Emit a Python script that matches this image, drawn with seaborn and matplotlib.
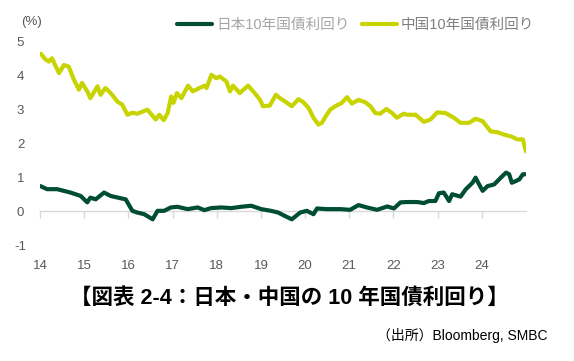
import pandas as pd
import seaborn as sns
import matplotlib.pyplot as plt

# 10-year government bond yields (%)
jp_year = [2014.01, 2014.16, 2014.39, 2014.69, 2014.92, 2015.07, 2015.14, 2015.26, 2015.45,
           2015.60, 2015.83, 2015.94, 2016.09, 2016.20, 2016.36, 2016.55, 2016.66, 2016.81,
           2016.96, 2017.11, 2017.34, 2017.57, 2017.72, 2017.87, 2018.10, 2018.33, 2018.55,
           2018.78, 2019.01, 2019.23, 2019.39, 2019.54, 2019.70, 2019.89, 2020.04, 2020.19,
           2020.27, 2020.49, 2020.80, 2021.02, 2021.21, 2021.40, 2021.63, 2021.86, 2022.01,
           2022.16, 2022.31, 2022.54, 2022.69, 2022.80, 2022.95, 2023.03, 2023.14, 2023.26,
           2023.33, 2023.52, 2023.64, 2023.79, 2023.86, 2023.94, 2024.02, 2024.13, 2024.28,
           2024.43, 2024.55, 2024.62, 2024.68, 2024.77, 2024.85, 2024.93, 2025.00]
jp_yield = [0.74, 0.65, 0.65, 0.55, 0.45, 0.26, 0.40, 0.35, 0.55,
            0.45, 0.38, 0.35, 0.01, -0.04, -0.09, -0.24, 0.01, 0.01,
            0.11, 0.13, 0.06, 0.11, 0.03, 0.09, 0.11, 0.09, 0.13,
            0.16, 0.06, 0.01, -0.04, -0.14, -0.24, -0.04, 0.01, -0.09,
            0.08, 0.06, 0.06, 0.04, 0.18, 0.11, 0.04, 0.14, 0.08,
            0.26, 0.27, 0.27, 0.24, 0.30, 0.30, 0.53, 0.55, 0.30,
            0.50, 0.43, 0.65, 0.84, 0.99, 0.79, 0.60, 0.74, 0.79,
            0.99, 1.14, 1.09, 0.84, 0.89, 0.94, 1.09, 1.09]

cn_year = [2014.02, 2014.12, 2014.20, 2014.27, 2014.43, 2014.54, 2014.65, 2014.77, 2014.88,
           2014.95, 2015.07, 2015.14, 2015.30, 2015.37, 2015.48, 2015.60, 2015.75, 2015.86,
           2015.98, 2016.09, 2016.20, 2016.43, 2016.62, 2016.70, 2016.80, 2016.89, 2016.97,
           2017.02, 2017.10, 2017.20, 2017.35, 2017.46, 2017.61, 2017.73, 2017.77, 2017.88,
           2017.99, 2018.07, 2018.22, 2018.30, 2018.37, 2018.52, 2018.71, 2018.86, 2018.98,
           2019.05, 2019.20, 2019.34, 2019.43, 2019.55, 2019.70, 2019.85, 2019.96, 2020.08,
           2020.19, 2020.30, 2020.38, 2020.49, 2020.57, 2020.68, 2020.83, 2020.95, 2021.06,
           2021.21, 2021.36, 2021.48, 2021.59, 2021.70, 2021.84, 2021.97, 2022.08, 2022.23,
           2022.31, 2022.50, 2022.69, 2022.84, 2022.99, 2023.18, 2023.37, 2023.52, 2023.71,
           2023.86, 2024.02, 2024.20, 2024.36, 2024.51, 2024.66, 2024.81, 2024.93, 2025.00]
cn_yield = [4.65, 4.49, 4.42, 4.52, 4.08, 4.32, 4.27, 3.88, 3.59,
            3.79, 3.54, 3.34, 3.69, 3.44, 3.64, 3.49, 3.24, 3.15,
            2.85, 2.91, 2.88, 3.00, 2.71, 2.85, 2.69, 2.90, 3.39,
            3.20, 3.49, 3.34, 3.71, 3.54, 3.64, 3.71, 3.64, 4.03,
            3.93, 3.98, 3.83, 3.54, 3.71, 3.49, 3.71, 3.49, 3.29,
            3.10, 3.12, 3.44, 3.34, 3.24, 3.10, 3.31, 3.22, 3.05,
            2.76, 2.56, 2.61, 2.85, 3.00, 3.10, 3.20, 3.37, 3.18,
            3.29, 3.22, 3.10, 2.90, 2.88, 3.02, 2.90, 2.76, 2.88,
            2.85, 2.85, 2.64, 2.71, 2.92, 2.90, 2.76, 2.61, 2.61,
            2.73, 2.66, 2.36, 2.33, 2.26, 2.21, 2.12, 2.12, 1.77]

year_ticks = list(range(2014, 2025))
year_labels = [str(y % 100) for y in year_ticks]

jp_label = "日本10年国債利回り"
cn_label = "中国10年国債利回り"
jp_color = "#004d35"
cn_color = "#c8d400"

jp = pd.DataFrame({"year": jp_year, "yield": jp_yield})
cn = pd.DataFrame({"year": cn_year, "yield": cn_yield})

sns.set_style("white")
plt.rcParams['font.family'] = ['Liberation Sans', 'Noto Sans CJK JP', 'DejaVu Sans']
plt.rcParams['axes.unicode_minus'] = False

fig = plt.figure(figsize=(5.74, 3.61), dpi=100)
ax = fig.add_axes([0.0697, 0.3213, 0.8466, 0.5624])

sns.lineplot(data=jp, x="year", y="yield", color=jp_color, linewidth=3, ax=ax, label=jp_label)
sns.lineplot(data=cn, x="year", y="yield", color=cn_color, linewidth=3, ax=ax, label=cn_label)

ax.set_xlim(2014, 2025)
ax.set_ylim(-1, 5)
ax.set_xlabel("")
ax.set_ylabel("")

# zero line doubles as the x axis, tick labels pushed to the bottom
for side in ["top", "right", "left"]:
    ax.spines[side].set_visible(False)
ax.spines["bottom"].set_position(("data", 0))
ax.spines["bottom"].set_color("#d9d9d9")
ax.spines["bottom"].set_linewidth(1)
ax.spines["bottom"].set_zorder(0)
ax.set_xticks(year_ticks)
ax.set_xticklabels(year_labels)
ax.tick_params(axis="x", direction="out", length=5, width=1, color="#d9d9d9",
               pad=30, labelsize=9.5, labelcolor="#595959", bottom=True)
ax.set_yticks(range(-1, 6))
ax.tick_params(axis="y", length=0, pad=14, labelsize=9.5, labelcolor="#595959")
for lab in ax.get_yticklabels():
    lab.set_horizontalalignment("center")

fig.text(0.055, 0.94, "(%)", fontsize=9.5, color="#595959", ha="center", va="center")

ax.legend_.remove()
leg = fig.legend(*ax.get_legend_handles_labels(), loc="center", bbox_to_anchor=(0.62, 0.93),
                 ncol=2, frameon=False, fontsize=10.5, handlelength=2.4, handletextpad=0.3,
                 columnspacing=0.8)
for h in leg.get_lines():
    h.set_linewidth(3)
leg.get_texts()[0].set_color("#a6a6a6")
leg.get_texts()[1].set_color("#7f7f7f")

fig.text(0.505, 0.175, "【図表 2-4：日本・中国の 10 年国債利回り】", fontsize=15.5,
         fontweight="bold", color="black", ha="center", va="center")
fig.text(0.953, 0.072, "（出所）Bloomberg, SMBC", fontsize=10, color="black",
         ha="right", va="center")

fig.savefig("out.png", dpi=100, facecolor="white")
